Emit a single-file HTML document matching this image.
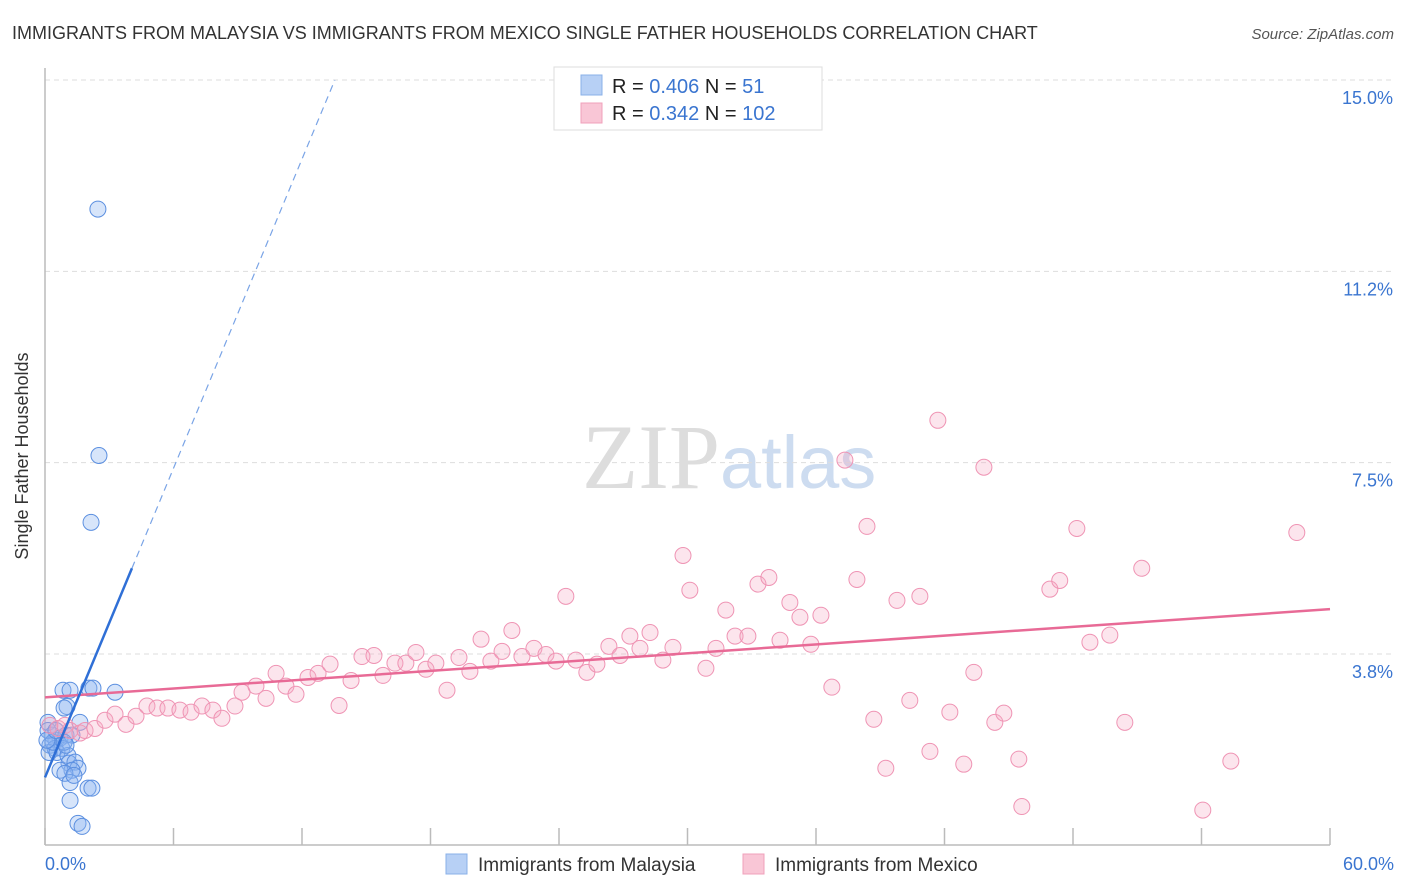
<!DOCTYPE html>
<html><head><meta charset="utf-8"><style>
body{margin:0;background:#fff;font-family:"Liberation Sans",sans-serif;}
svg{display:block}
</style></head><body>
<svg id="chart" width="1406" height="892" xmlns="http://www.w3.org/2000/svg">
<text x="12" y="39" font-size="18" fill="#333">IMMIGRANTS FROM MALAYSIA VS IMMIGRANTS FROM MEXICO SINGLE FATHER HOUSEHOLDS CORRELATION CHART</text>
<text x="1394" y="39" font-size="15" fill="#555" font-style="italic" text-anchor="end">Source: ZipAtlas.com</text>
<text x="720" y="488" font-size="92" font-family="Liberation Serif,serif" fill="#ddd" text-anchor="end">ZIP</text>
<text x="720" y="488" font-size="74" fill="#cddcf0">atlas</text>
<g id="grid"></g>
<line x1="45" y1="68" x2="45" y2="845" stroke="#bbb" stroke-width="1.5"/>
<line x1="45" y1="845" x2="1330" y2="845" stroke="#bbb" stroke-width="1.5"/>
<g id="xticks"></g>
<text x="28" y="456" font-size="18" fill="#333" transform="rotate(-90 28 456)" text-anchor="middle">Single Father Households</text>
<text x="45" y="870" font-size="18" fill="#3a75d0">0.0%</text>
<text x="1394" y="870" font-size="18" fill="#3a75d0" text-anchor="end">60.0%</text>
<g id="points"></g>
<g id="lines"></g>
<g>
<rect x="554" y="67" width="268" height="63" fill="#fff" stroke="#ddd"/>
<rect x="581" y="75" width="21" height="20" fill="#b7d0f5" stroke="#8ab0e8"/>
<rect x="581" y="103" width="21" height="20" fill="#f9c6d6" stroke="#f0a0bb"/>
<text x="612" y="93" font-size="20" fill="#222">R = <tspan fill="#3a75d0">0.406</tspan>   N =   <tspan fill="#3a75d0">51</tspan></text>
<text x="612" y="120" font-size="20" fill="#222">R =  <tspan fill="#3a75d0">0.342</tspan>   N = <tspan fill="#3a75d0">102</tspan></text>
</g>
<g>
<rect x="446" y="854" width="21" height="20" fill="#b7d0f5" stroke="#8ab0e8"/>
<text x="478" y="871" font-size="19" fill="#333">Immigrants from Malaysia</text>
<rect x="743" y="854" width="21" height="20" fill="#f9c6d6" stroke="#f0a0bb"/>
<text x="775" y="871" font-size="19" fill="#333">Immigrants from Mexico</text>
</g>
</svg>
<script>
const yTicks=[3.75,7.5,11.25,15];
const yTickLabels=["3.8%","7.5%","11.2%","15.0%"];
const xTicks=[0,6,12,18,24,30,36,42,48,54,60];
const malaysiaX=[2.47,2.52,2.15,0.84,1.17,2.05,2.24,3.27,1.03,0.89,1.63,0.14,0.33,0.51,0.70,0.98,1.26,0.23,0.47,0.79,0.19,0.56,1.07,1.12,1.40,1.54,1.26,0.70,0.93,0.14,1.17,2.01,2.19,1.17,1.54,1.73,0.37,0.09,0.89,0.51,1.35,0.98];
const malaysiaY=[12.47,7.64,6.33,3.04,3.04,3.08,3.08,3.00,2.72,2.69,2.41,2.41,2.16,2.06,2.10,2.16,2.16,1.96,1.90,1.90,1.82,1.82,1.76,1.61,1.63,1.51,1.47,1.47,1.41,2.25,1.23,1.12,1.12,0.88,0.43,0.37,2.02,2.06,2.02,2.25,1.37,1.96];
const mexicoX=[0.23,0.61,0.93,1.17,1.63,1.87,2.33,2.80,3.27,3.78,4.25,4.76,5.23,5.74,6.30,6.82,7.33,7.84,8.26,8.87,9.20,9.85,10.32,10.79,11.25,11.72,12.28,12.75,13.31,13.73,14.29,14.80,15.36,15.78,16.34,16.85,17.32,17.79,18.25,18.77,19.33,19.84,20.36,20.82,21.34,21.80,22.27,22.83,23.39,23.86,24.32,24.79,25.30,25.77,26.33,26.85,27.31,27.78,28.25,28.85,29.32,29.79,30.11,30.86,31.33,31.79,32.22,32.82,33.29,33.80,34.32,34.78,35.25,35.76,36.23,36.74,37.35,37.91,38.38,38.70,39.26,39.78,40.38,40.85,41.32,41.69,42.25,42.90,43.37,43.84,44.35,44.77,45.47,45.61,46.92,47.38,48.18,48.79,49.72,50.42,51.21,54.06,55.37,58.45];
const mexicoY=[2.35,2.29,2.35,2.25,2.20,2.25,2.29,2.45,2.57,2.37,2.53,2.73,2.69,2.69,2.65,2.61,2.73,2.65,2.49,2.73,3.00,3.12,2.88,3.37,3.12,2.96,3.29,3.37,3.55,2.74,3.23,3.70,3.72,3.33,3.57,3.57,3.78,3.45,3.57,3.04,3.68,3.41,4.04,3.61,3.80,4.21,3.70,3.86,3.74,3.61,4.88,3.63,3.39,3.55,3.90,3.72,4.10,3.86,4.17,3.63,3.88,5.68,5.00,3.47,3.86,4.61,4.10,4.10,5.12,5.25,4.02,4.76,4.47,3.94,4.51,3.10,7.55,5.21,6.25,2.47,1.51,4.80,2.84,4.88,1.84,8.33,2.61,1.59,3.39,7.41,2.41,2.59,1.69,0.76,5.02,5.19,6.21,3.98,4.12,2.41,5.43,0.69,1.65,6.13];
const mexicoTrend=[2.90,0.0288];   // intercept, slope
const malaysiaTrend=[1.33,1.01];
const NS="http://www.w3.org/2000/svg";
const X=v=>45+v*(1285/60);
const Y=v=>845.3-v*51.02;
function mk(tag,attrs,parent){const e=document.createElementNS(NS,tag);for(const k in attrs)e.setAttribute(k,attrs[k]);document.getElementById(parent).appendChild(e);return e;}
yTicks.forEach((t,i)=>{
 const l=mk('line',{x1:45,x2:1395,y1:Y(t),y2:Y(t),stroke:'#ddd','stroke-dasharray':'5,4'},'grid');
 
 
 const tx=mk('text',{x:1393,y:Y(t)+24,'font-size':18,fill:'#3a75d0','text-anchor':'end'},'grid');
 tx.textContent=yTickLabels[i];
 
 
});
xTicks.forEach(t=>{
 const l=mk('line',{x1:X(t),x2:X(t),y1:828,y2:845,stroke:'#bbb','stroke-width':1.5},'xticks');
 
 
});
malaysiaX.forEach((x,i)=>{
 const c=mk('circle',{cx:X(x),cy:Y(malaysiaY[i]),r:8,fill:'rgba(140,180,240,0.35)',stroke:'#5b8fe0','stroke-width':1},'points');
 
 
});
mexicoX.forEach((x,i)=>{
 const c=mk('circle',{cx:X(x),cy:Y(mexicoY[i]),r:8,fill:'rgba(245,170,195,0.3)',stroke:'#ef94b4','stroke-width':1},'points');
 
 
});
const pl=mk('line',{x1:X(0),y1:Y(mexicoTrend[0]),x2:X(60),y2:Y(mexicoTrend[0]+60*mexicoTrend[1]),stroke:'#e86a96','stroke-width':2.5},'lines');


const xs=4.06, xe=(15-malaysiaTrend[0])/malaysiaTrend[1];
const bl=mk('line',{x1:X(0),y1:Y(malaysiaTrend[0]),x2:X(xs),y2:Y(malaysiaTrend[0]+xs*malaysiaTrend[1]),stroke:'#2f6fd6','stroke-width':2.5},'lines');


const bd=mk('line',{x1:X(xs),y1:Y(malaysiaTrend[0]+xs*malaysiaTrend[1]),x2:X(xe),y2:Y(15),stroke:'#7aa4e6','stroke-width':1.2,'stroke-dasharray':'7,5'},'lines');


</script>
</body></html>
